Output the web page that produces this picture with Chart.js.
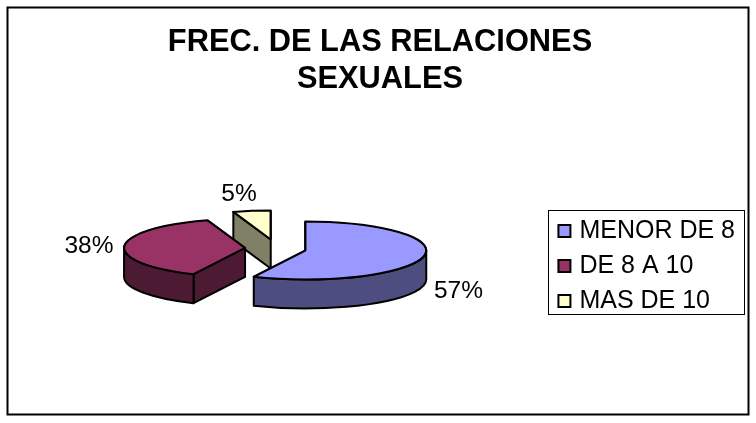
<!DOCTYPE html>
<html><head><meta charset="utf-8">
<style>html,body{margin:0;padding:0;background:#fff}canvas{display:block}</style>
<script src="https://cdn.jsdelivr.net/npm/chart.js@4"></script>
</head><body><canvas id="c" width="756" height="423"></canvas>
<script>
const titleLines = ['FREC. DE LAS RELACIONES', 'SEXUALES'];
const categories = ['MENOR DE 8', 'DE 8 A 10', 'MAS DE 10'];
const values = [57, 38, 5];
const topColors = ['#9999FF', '#993366', '#FFFFCC'];
const sideColors = ['#4D4D80', '#4D1A33', '#808066'];

const CX = 275.5, CY = 248.5, TILT = 29 / 121, DEPTH = 29, EXPLODE = 30.5, EXPLODE_Y = 0.3, RADIUS = 121;
const labelSpots = [[458.5, 291], [89, 246], [239, 194]];
const LEGEND_SHIFT = 51;

const pie3d = {
  id: 'pie3d',
  afterLayout(chart) {
    const lg = chart.legend;
    lg.top += LEGEND_SHIFT;
    lg.bottom += LEGEND_SHIFT;
    lg.adjustHitBoxes();
  },
  beforeDraw(chart) {
    const { ctx, width, height } = chart;
    ctx.save();
    ctx.fillStyle = '#fff';
    ctx.fillRect(0, 0, width, height);
    ctx.strokeStyle = '#000';
    ctx.lineWidth = 2;
    ctx.strokeRect(7.5, 7.5, 741, 407);
    // legend frame
    ctx.lineWidth = 1;
    ctx.strokeRect(548.5, 210.5, 196, 104);
    ctx.restore();
  },
  beforeDatasetsDraw(chart) {
    const { ctx } = chart;
    const arcs = chart.getDatasetMeta(0).data;
    const geo = arcs.map(a => {
      const mid = (a.startAngle + a.endAngle) / 2;
      return {
        a,
        x: CX + EXPLODE * Math.cos(mid),
        y: CY + EXPLODE * EXPLODE_Y * Math.sin(mid),
        rx: a.outerRadius,
        ry: a.outerRadius * TILT
      };
    });
    // paint back to front
    const order = [2, 1, 0];
    ctx.save();
    ctx.lineJoin = 'round';
    ctx.lineWidth = 2;
    ctx.strokeStyle = '#000';
    order.forEach(i => {
      const g = geo[i], s = g.a.startAngle, e = g.a.endAngle;
      ctx.fillStyle = sideColors[i];
      // visible cut face (start side)
      if (Math.sin(s - Math.PI / 2) > 1e-6) {
        const px = g.x + g.rx * Math.cos(s), py = g.y + g.ry * Math.sin(s);
        ctx.beginPath();
        ctx.moveTo(g.x, g.y);
        ctx.lineTo(px, py);
        ctx.lineTo(px, py + DEPTH);
        ctx.lineTo(g.x, g.y + DEPTH);
        ctx.closePath();
        ctx.fill();
        ctx.stroke();
      }
      // visible rim
      const a0 = Math.max(s, 0), a1 = Math.min(e, Math.PI);
      if (a1 > a0) {
        ctx.beginPath();
        ctx.ellipse(g.x, g.y, g.rx, g.ry, 0, a0, a1);
        ctx.ellipse(g.x, g.y + DEPTH, g.rx, g.ry, 0, a1, a0, true);
        ctx.closePath();
        ctx.fill();
        ctx.stroke();
      }
      // top face drawn by the library's arc element, flattened
      ctx.save();
      ctx.translate(g.x, g.y);
      ctx.scale(1, TILT);
      ctx.translate(-g.a.x, -g.a.y);
      g.a.draw(ctx);
      ctx.restore();
      // crisp outline
      ctx.beginPath();
      ctx.moveTo(g.x, g.y);
      ctx.ellipse(g.x, g.y, g.rx, g.ry, 0, s, e);
      ctx.closePath();
      ctx.stroke();
    });
    ctx.restore();
    return false;
  },
  afterDraw(chart) {
    const { ctx } = chart;
    ctx.save();
    ctx.fillStyle = '#000';
    ctx.font = '24.5px "Liberation Sans", Arial, sans-serif';
    ctx.textAlign = 'center';
    ctx.textBaseline = 'middle';
    values.forEach((v, i) => ctx.fillText(v + '%', labelSpots[i][0], labelSpots[i][1]));
    ctx.restore();
  }
};

Chart.defaults.font.family = '"Liberation Sans", Arial, sans-serif';
new Chart(document.getElementById('c'), {
  type: 'pie',
  data: {
    labels: categories,
    datasets: [{
      data: values,
      backgroundColor: topColors,
      borderColor: '#000',
      borderWidth: 2,
      radius: RADIUS
    }]
  },
  options: {
    responsive: false,
    devicePixelRatio: 1,
    animation: false,
    layout: { padding: { left: 15, right: 11, top: 14, bottom: 7 } },
    plugins: {
      tooltip: { enabled: false },
      title: {
        display: true,
        text: titleLines,
        color: '#000',
        font: { size: 30.8, weight: 'bold' },
        lineHeight: 1.234,
        padding: { top: 10, bottom: 7 }
      },
      legend: {
        position: 'right',
        labels: {
          color: '#000',
          font: { size: 25 },
          usePointStyle: true,
          pointStyle: 'rect',
          boxWidth: 5,
          boxHeight: 12,
          padding: 10
        }
      }
    }
  },
  plugins: [pie3d]
});
</script></body></html>
